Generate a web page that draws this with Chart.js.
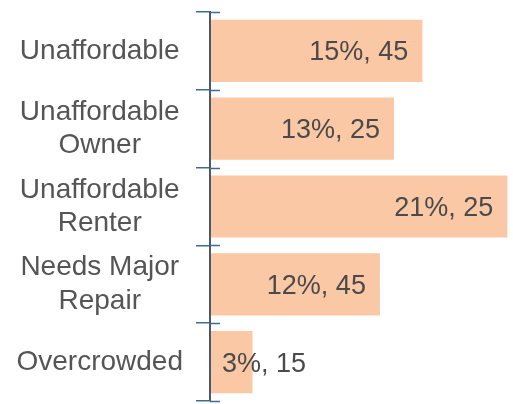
<!DOCTYPE html>
<html>
<head>
<meta charset="utf-8">
<script src="https://cdn.jsdelivr.net/npm/chart.js@4/dist/chart.umd.min.js"></script>
<style>
  html, body { margin: 0; padding: 0; background: #fff; }
  #wrap { width: 513px; height: 404px; position: relative; }
</style>
</head>
<body>
<div id="wrap"><canvas id="needsChart"></canvas></div>
<script>
const categories = [
  ["Unaffordable"],
  ["Unaffordable", "Owner"],
  ["Unaffordable", "Renter"],
  ["Needs Major", "Repair"],
  ["Overcrowded"],
];
const shares = [15, 13, 21, 12, 3];
const counts = [45, 25, 25, 45, 15];

const barColor = "#fbc8a5";
const axisColor = "#4a5a6b";
const tickColor = "#3f6b92";
const textColor = "#555555";
const fontFamily = "'Liberation Sans', Arial, sans-serif";

// short tick stubs on the plot side of the category axis
const tickStubs = {
  id: "tickStubs",
  afterDraw(chart) {
    const y = chart.scales.y;
    const ctx = chart.ctx;
    const half = (y.getPixelForValue(1) - y.getPixelForValue(0)) / 2;
    ctx.save();
    ctx.strokeStyle = tickColor;
    ctx.lineWidth = 1.5;
    for (let i = 0; i <= categories.length; i++) {
      const py = Math.round(y.getPixelForValue(i) - half) + 0.5;
      ctx.beginPath();
      ctx.moveTo(y.right, py);
      ctx.lineTo(y.right + 10, py);
      ctx.stroke();
    }
    ctx.restore();
  },
};

// "share%, count" written inside each bar, or from the base when the bar is too short
const barLabels = {
  id: "barLabels",
  afterDatasetsDraw(chart) {
    const ctx = chart.ctx;
    const meta = chart.getDatasetMeta(0);
    ctx.save();
    ctx.font = `27px ${fontFamily}`;
    ctx.fillStyle = "#4a4a4a";
    ctx.textBaseline = "middle";
    meta.data.forEach((bar, i) => {
      const text = `${shares[i]}%, ${counts[i]}`;
      const w = ctx.measureText(text).width;
      if (bar.x - bar.base - 28 >= w) {
        ctx.textAlign = "right";
        ctx.fillText(text, bar.x - 14, bar.y + 2);
      } else {
        ctx.textAlign = "left";
        ctx.fillText(text, bar.base + 12, bar.y + 2);
      }
    });
    ctx.restore();
  },
};

new Chart(document.getElementById("needsChart"), {
  type: "bar",
  data: {
    labels: categories,
    datasets: [
      {
        data: shares,
        backgroundColor: barColor,
        borderWidth: 0,
        categoryPercentage: 1,
        barPercentage: 0.8,
      },
    ],
  },
  options: {
    indexAxis: "y",
    responsive: true,
    maintainAspectRatio: false,
    animation: false,
    layout: { padding: { left: 0, right: 0, top: 12, bottom: 3 } },
    plugins: { legend: { display: false }, tooltip: { enabled: false } },
    scales: {
      x: { display: false, min: 0, max: 21.4 },
      y: {
        afterFit(scale) {
          scale.width = 210;
          scale.paddingTop = 0;
          scale.paddingBottom = 0;
        },
        grid: { drawOnChartArea: false, drawTicks: true, tickLength: 14, color: tickColor, lineWidth: 1.5, z: 1 },
        border: { display: true, color: axisColor, width: 2, z: 1 },
        ticks: {
          crossAlign: "center",
          padding: 13,
          color: textColor,
          font: { family: fontFamily, size: 28, lineHeight: 1.18 },
        },
      },
    },
  },
  plugins: [tickStubs, barLabels],
});
</script>
</body>
</html>
